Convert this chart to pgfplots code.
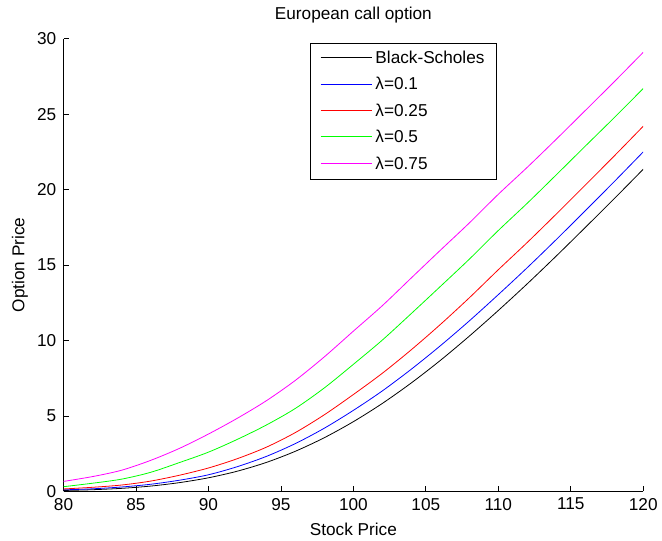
\documentclass[border=0pt]{standalone}
\usepackage{fontspec}
\setmainfont{Liberation Sans}
\usepackage{pgfplots}
\pgfplotsset{compat=1.18}

\definecolor{mblue}{rgb}{0,0,1}
\definecolor{mred}{rgb}{1,0,0}
\definecolor{mgreen}{rgb}{0,1,0}
\definecolor{mmag}{rgb}{1,0,1}

\begin{document}
\begin{tikzpicture}
\begin{axis}[
    scale only axis,
    width=438pt, height=342pt,
    xmin=80, xmax=120, ymin=0, ymax=30,
    xtick={80,85,...,120},
    ytick={0,5,...,30},
    axis x line*=bottom,
    axis y line*=left,
    axis line style={-, line width=0.6pt},
    tick style={black, line width=0.6pt},
    tick align=inside,
    major tick length=4pt,
    /pgf/number format/assume math mode=true,
    tick label style={font=\fontsize{13}{15}\selectfont},
    xticklabel style={yshift=-1.5pt},
    yticklabel style={xshift=-2pt},
    label style={font=\fontsize{13}{15}\selectfont},
    title style={font=\fontsize{13}{15}\selectfont, yshift=2pt},
    title={European call option},
    xlabel={Stock Price},
    ylabel={Option Price},
    xlabel style={yshift=-3pt},
    legend cell align=left,
    legend style={at={(0.426,0.991)}, anchor=north west,
        font=\fontsize{13}{15}\selectfont,
        line width=0.6pt, inner xsep=7pt, inner ysep=4pt,
        row sep=5pt},
    legend image code/.code={\draw[#1, line width=0.8pt] (0pt,0.5pt) -- (39pt,0.5pt);},
    every axis plot/.append style={line width=0.6pt, smooth, tension=0.5},
]
\addplot[color=black] coordinates {(80,0.06) (82,0.11) (84,0.20) (86,0.35) (88,0.58) (90,0.90) (92,1.34) (94,1.92) (96,2.66) (98,3.56) (100,4.62) (102,5.83) (104,7.19) (106,8.68) (108,10.29) (110,11.99) (112,13.76) (114,15.60) (116,17.49) (118,19.40) (120,21.35)};
\addlegendentry{Black-Scholes}
\addplot[color=mblue] coordinates {(80,0.10) (82,0.17) (84,0.29) (86,0.47) (88,0.74) (90,1.10) (92,1.64) (94,2.32) (96,3.17) (98,4.19) (100,5.37) (102,6.66) (104,8.10) (106,9.65) (108,11.30) (110,13.04) (112,14.83) (114,16.69) (116,18.60) (118,20.53) (120,22.50)};
\addlegendentry{λ=0.1}
\addplot[color=mred] coordinates {(80,0.16) (82,0.27) (84,0.42) (86,0.68) (88,1.07) (90,1.55) (92,2.17) (94,2.93) (96,3.90) (98,5.08) (100,6.42) (102,7.83) (104,9.39) (106,11.06) (108,12.83) (110,14.69) (112,16.50) (114,18.38) (116,20.30) (118,22.23) (120,24.20)};
\addlegendentry{λ=0.25}
\addplot[color=mgreen] coordinates {(80,0.31) (82,0.54) (84,0.81) (86,1.26) (88,1.91) (90,2.60) (92,3.45) (94,4.40) (96,5.50) (98,6.86) (100,8.42) (102,10.03) (104,11.79) (106,13.58) (108,15.39) (110,17.29) (112,19.10) (114,20.98) (116,22.88) (118,24.77) (120,26.70)};
\addlegendentry{λ=0.5}
\addplot[color=mmag] coordinates {(80,0.66) (82,0.98) (84,1.40) (86,2.05) (88,2.85) (90,3.80) (92,4.85) (94,6.01) (96,7.36) (98,8.92) (100,10.62) (102,12.31) (104,14.15) (106,15.98) (108,17.79) (110,19.69) (112,21.48) (114,23.34) (116,25.24) (118,27.15) (120,29.10)};
\addlegendentry{λ=0.75}
\end{axis}
\path ([xshift=-48pt,yshift=-36.75pt]current axis.south west) rectangle ([xshift=10.5pt,yshift=29.25pt]current axis.north east);
\end{tikzpicture}
\end{document}
